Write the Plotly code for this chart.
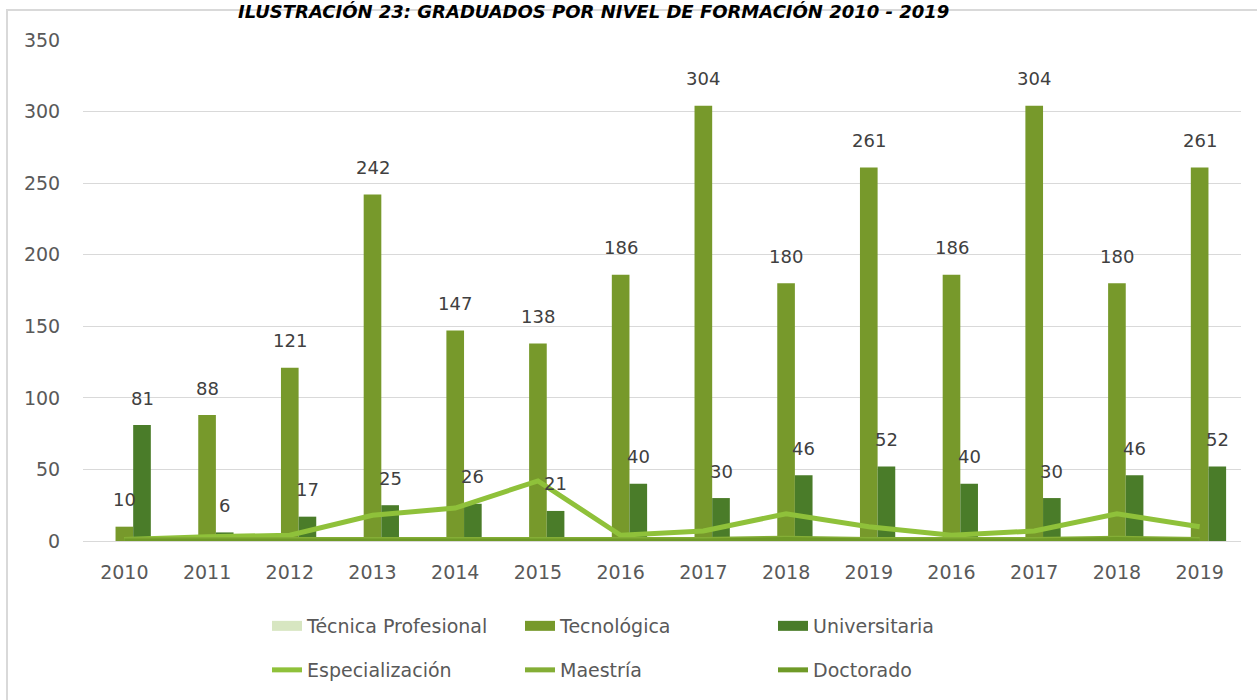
import plotly.graph_objects as go

# ---- data ----
years = ["2010", "2011", "2012", "2013", "2014", "2015", "2016", "2017", "2018", "2019",
         "2016", "2017", "2018", "2019"]
tecnica_profesional = [0, 0, 0, 0, 0, 0, 0, 0, 0, 0, 0, 0, 0, 0]
tecnologica = [10, 88, 121, 242, 147, 138, 186, 304, 180, 261, 186, 304, 180, 261]
universitaria = [81, 6, 17, 25, 26, 21, 40, 30, 46, 52, 40, 30, 46, 52]
especializacion = [1, 3, 4, 18, 23, 42, 4, 7, 19, 10, 4, 7, 19, 10]
maestria = [1, 1, 1, 1, 1, 1, 1, 1, 2, 1, 1, 1, 2, 1]
doctorado = [0, 0, 0, 0, 0, 0, 0, 0, 1, 0, 0, 0, 1, 0]

title_text = "ILUSTRACIÓN 23: GRADUADOS POR NIVEL DE FORMACIÓN 2010 - 2019"

# ---- styles ----
FONT = "'DejaVu Sans', Lato, sans-serif"
TXT = "#595959"
C_TP = "#D7E6C1"
C_TEC = "#77992B"
C_UNI = "#4A7C29"
C_ESP = "#8FC13A"
C_MAE = "#84AE36"
C_DOC = "#6F9A27"

W, H = 1257, 700
L, R, T, B = 83, 16, 40, 158
PW, PH = W - L - R, H - T - B


def px_x(p):
    return (p - L) / PW


def px_y(p):
    return (H - B - p) / PH


x = list(range(len(years)))
BARGAP = 0.36
bar_w = (1 - BARGAP) / 3

fig = go.Figure()

bar_series = [("Técnica Profesional", tecnica_profesional, C_TP),
              ("Tecnológica", tecnologica, C_TEC),
              ("Universitaria", universitaria, C_UNI)]
for name, vals, col in bar_series:
    fig.add_trace(go.Bar(x=x, y=vals, name=name, marker_color=col,
                         marker_line_width=0, showlegend=False, legendgroup=name))
    # legend entry with a wide rectangle symbol
    fig.add_trace(go.Scatter(x=[None], y=[None], mode="lines", name=name,
                             line=dict(color=col, width=13), legendgroup=name,
                             legend="legend", showlegend=True))

line_series = [("Especialización", especializacion, C_ESP),
               ("Maestría", maestria, C_MAE),
               ("Doctorado", doctorado, C_DOC)]
for name, vals, col in line_series:
    fig.add_trace(go.Scatter(x=x, y=vals, name=name, mode="lines",
                             line=dict(color=col, width=5),
                             legend="legend2", showlegend=True))

# data labels for Tecnológica and Universitaria
LBL = dict(family=FONT, size=18, color="#404040")
annotations = []
for i, v in enumerate(tecnologica):
    annotations.append(dict(x=i, y=v, text=str(v), showarrow=False, yshift=27, font=LBL))
for i, v in enumerate(universitaria):
    annotations.append(dict(x=i + bar_w, y=v, text=str(v), showarrow=False, yshift=27, font=LBL))

# title at the very top
annotations.append(dict(xref="paper", yref="paper", x=px_x(593), y=px_y(11),
                        yanchor="middle", xanchor="center",
                        text="<b><i>" + title_text + "</i></b>", showarrow=False,
                        font=dict(family=FONT, size=18, color="#000000")))

legend_common = dict(orientation="h", x=px_x(267), xanchor="left", yanchor="middle",
                     entrywidth=208, entrywidthmode="pixels",
                     font=dict(family=FONT, size=19, color=TXT),
                     bgcolor="rgba(0,0,0,0)", traceorder="normal")

fig.update_layout(
    width=W, height=H,
    margin=dict(l=L, r=R, t=T, b=B),
    paper_bgcolor="white", plot_bgcolor="white",
    barmode="group", bargap=BARGAP, bargroupgap=0,
    font=dict(family=FONT, size=19, color=TXT),
    annotations=annotations,
    legend=dict(legend_common, y=px_y(626)),
    legend2=dict(legend_common, y=px_y(670)),
    shapes=[dict(type="rect", xref="paper", yref="paper",
                 x0=px_x(7), x1=px_x(1265),
                 y0=px_y(710), y1=px_y(10),
                 line=dict(color="#D9D9D9", width=2), fillcolor="rgba(0,0,0,0)",
                 layer="below")],
)

fig.update_xaxes(tickmode="array", tickvals=x, ticktext=years,
                 range=[-0.5, len(years) - 0.5],
                 showline=True, linecolor="#D9D9D9", linewidth=1,
                 showgrid=False, zeroline=False,
                 ticks="outside", ticklen=14, tickcolor="rgba(0,0,0,0)",
                 tickfont=dict(family=FONT, size=19, color=TXT))
fig.update_yaxes(range=[0, 350], dtick=50, showgrid=True, gridcolor="#D9D9D9",
                 gridwidth=1, zeroline=False, showline=False,
                 ticks="outside", ticklen=18, tickcolor="rgba(0,0,0,0)",
                 tickfont=dict(family=FONT, size=19, color=TXT))

fig.write_html("out.html", config={"displayModeBar": False},
               post_script="document.body.style.margin='0';document.body.style.overflow='hidden';")
